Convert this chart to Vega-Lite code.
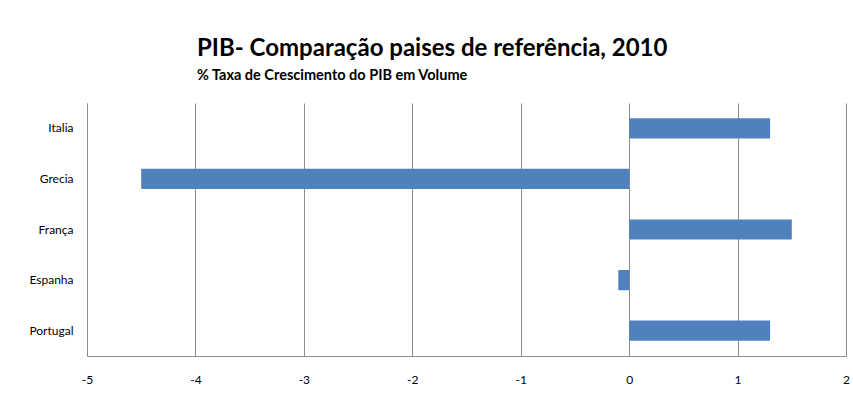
{
  "$schema": "https://vega.github.io/schema/vega-lite/v6.json",
  "width": 759,
  "height": 253,
  "autosize": {"type": "none"},
  "padding": {"left": 87, "top": 103, "right": 7, "bottom": 47},
  "background": "white",
  "title": {
    "text": "PIB- Comparação paises de referência, 2010",
    "subtitle": "% Taxa de Crescimento do PIB em Volume",
    "anchor": "start",
    "frame": "group",
    "dx": 110,
    "offset": 21,
    "font": "Lato",
    "fontSize": 24,
    "fontWeight": "bold",
    "color": "#000000",
    "subtitleFont": "Lato",
    "subtitleFontSize": 14.5,
    "subtitleFontWeight": "bold",
    "subtitleColor": "#000000",
    "subtitlePadding": 8
  },
  "data": {
    "values": [
      {"pais": "Italia", "valor": 1.3},
      {"pais": "Grecia", "valor": -4.5},
      {"pais": "França", "valor": 1.5},
      {"pais": "Espanha", "valor": -0.1},
      {"pais": "Portugal", "valor": 1.3}
    ]
  },
  "mark": {"type": "bar", "color": "#4F81BD"},
  "encoding": {
    "y": {
      "field": "pais",
      "type": "nominal",
      "sort": null,
      "scale": {"paddingInner": 0.6, "paddingOuter": 0.3},
      "axis": {
        "title": null,
        "ticks": false,
        "domainColor": "#8c8c8c",
        "domainWidth": 1,
        "labelPadding": 14,
        "labelFont": "Lato",
        "labelFontSize": 12,
        "labelColor": "#000000",
        "grid": false
      }
    },
    "x": {
      "field": "valor",
      "type": "quantitative",
      "scale": {"domain": [-5, 2], "nice": false, "zero": false},
      "axis": {
        "title": null,
        "values": [-5, -4, -3, -2, -1, 0, 1, 2],
        "labelExpr": "datum.value < 0 ? '-' + abs(datum.value) : '' + datum.value",
        "ticks": false,
        "grid": true,
        "gridColor": "#8c8c8c",
        "gridWidth": 1,
        "domainColor": "#8c8c8c",
        "labelPadding": 18,
        "labelFont": "Lato",
        "labelFontSize": 12,
        "labelColor": "#000000",
        "labelFlush": false
      }
    }
  },
  "config": {"view": {"stroke": null}}
}
